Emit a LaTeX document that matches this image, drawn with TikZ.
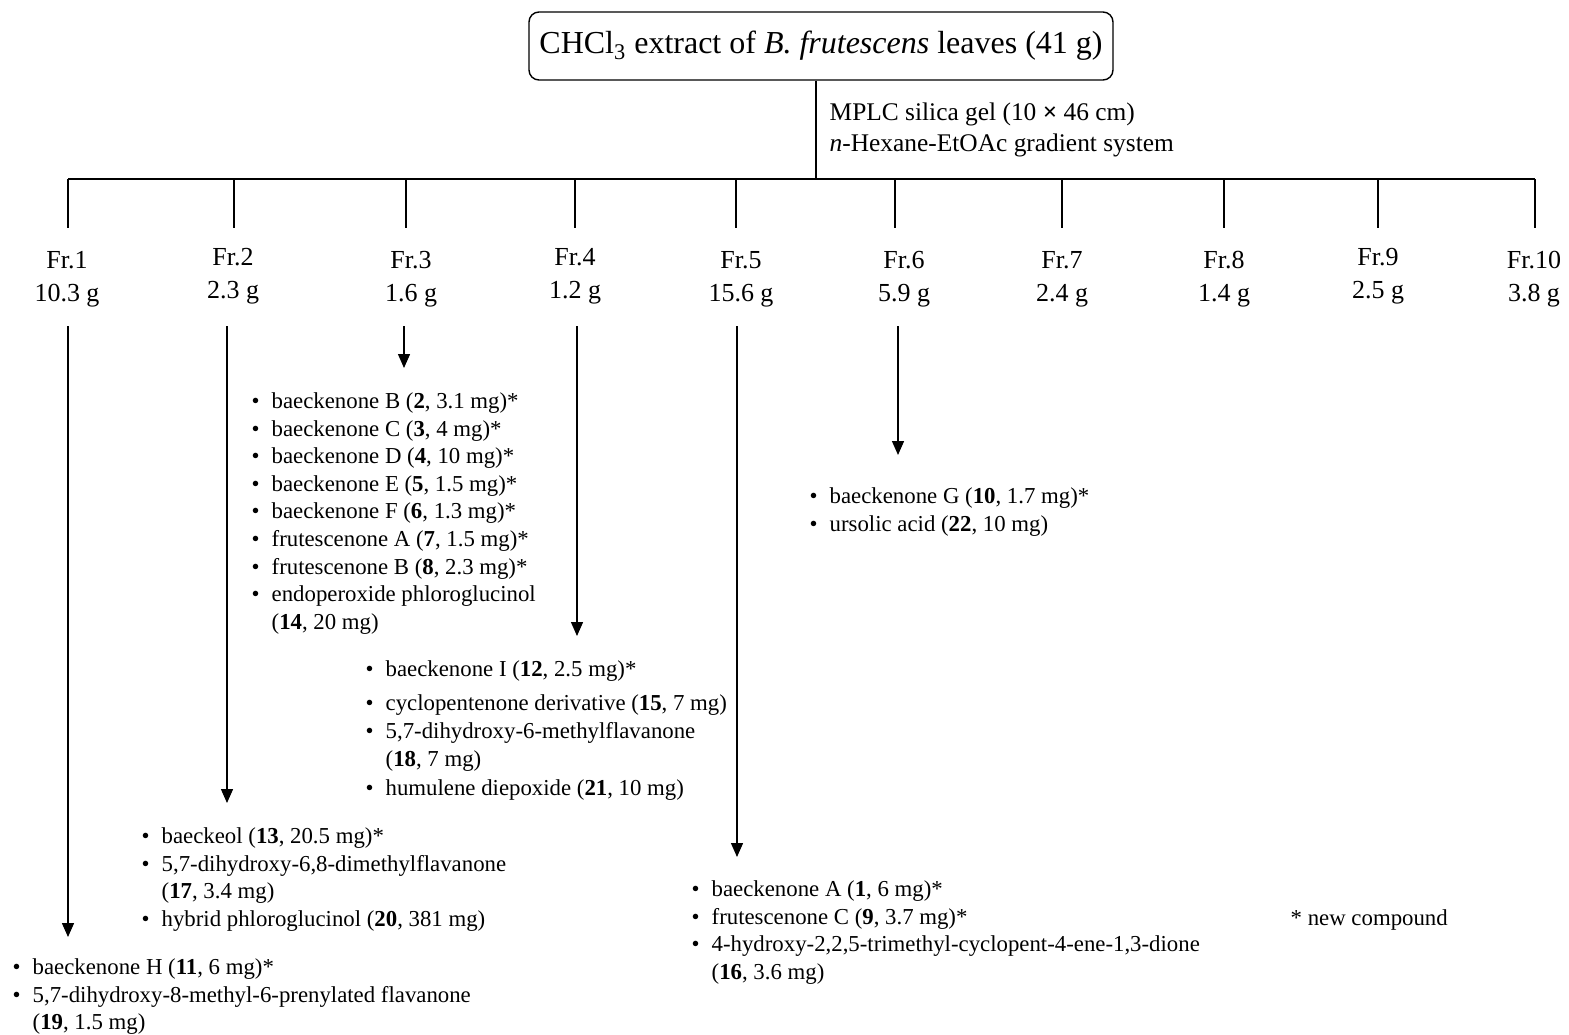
\documentclass[tikz,border=0pt]{standalone}
\usepackage{fontspec}
\setmainfont{Liberation Serif}
\usetikzlibrary{positioning,arrows.meta}
\tikzset{>={Triangle[length=7pt,width=6pt]}}
\newcommand{\cmp}{\makebox[10pt][l]{\textbullet}}
\newcommand{\cont}{\hspace*{10pt}}

\begin{document}
\begin{tikzpicture}[x=0.5pt,y=-0.5pt,line width=0.7pt,
  frac/.style={align=center,inner sep=0pt,font=\fontsize{13}{16.5}\selectfont},
  cmplist/.style={align=left,anchor=north west,inner sep=0pt,font=\fontsize{11.4}{13.8}\selectfont}]
\useasboundingbox (0,0) rectangle (1569,1034);

% crude extract and first column
\node[draw,rounded corners=5pt,minimum width=292pt,minimum height=34pt,inner sep=0pt,
  font=\fontsize{16}{19}\selectfont] (extract) at (821,46)
  {CHCl\textsubscript{3} extract of \textit{B. frutescens} leaves (41 g)};
\coordinate (bus) at (816,179);
\draw (extract.south -| bus) -- (bus);
\node[anchor=west,align=left,inner sep=0pt,font=\fontsize{12.7}{15.5}\selectfont] (mplc) at (829,130)
  {MPLC silica gel (10 {\bfseries ×} 46 cm)\\\textit{n}-Hexane-EtOAc gradient system};

% fractions
\coordinate (d1) at (68,228);
\coordinate (d10) at (1535,228);
\draw (d1 |- bus) -- (d10 |- bus);
\coordinate (d2) at (234,228);
\coordinate (d3) at (406,228);
\coordinate (d4) at (575,228);
\coordinate (d5) at (736,228);
\coordinate (d6) at (895,228);
\coordinate (d7) at (1062,228);
\coordinate (d8) at (1224,228);
\coordinate (d9) at (1378,228);
\draw (d1 |- bus) -- (d1);
\draw (d2 |- bus) -- (d2);
\draw (d3 |- bus) -- (d3);
\draw (d4 |- bus) -- (d4);
\draw (d5 |- bus) -- (d5);
\draw (d6 |- bus) -- (d6);
\draw (d7 |- bus) -- (d7);
\draw (d8 |- bus) -- (d8);
\draw (d9 |- bus) -- (d9);
\draw (d10 |- bus) -- (d10);

\node[frac] (fr1) at (67,279) {Fr.1\\10.3 g};
\node[frac] (fr2) at (233,276) {Fr.2\\2.3 g};
\node[frac] (fr3) at (411,279) {Fr.3\\1.6 g};
\node[frac] (fr4) at (575,276) {Fr.4\\1.2 g};
\node[frac] (fr5) at (741,279) {Fr.5\\15.6 g};
\node[frac] (fr6) at (904,279) {Fr.6\\5.9 g};
\node[frac] (fr7) at (1062,279) {Fr.7\\2.4 g};
\node[frac] (fr8) at (1224,279) {Fr.8\\1.4 g};
\node[frac] (fr9) at (1378,276) {Fr.9\\2.5 g};
\node[frac] (fr10) at (1534,279) {Fr.10\\3.8 g};

% isolated compounds
\node[cmplist] (l3) at (251,392) {\cmp baeckenone B (\textbf{2}, 3.1 mg)*\\
  \cmp baeckenone C (\textbf{3}, 4 mg)*\\
  \cmp baeckenone D (\textbf{4}, 10 mg)*\\
  \cmp baeckenone E (\textbf{5}, 1.5 mg)*\\
  \cmp baeckenone F (\textbf{6}, 1.3 mg)*\\
  \cmp frutescenone A (\textbf{7}, 1.5 mg)*\\
  \cmp frutescenone B (\textbf{8}, 2.3 mg)*\\
  \cmp endoperoxide phloroglucinol\\
  \cont(\textbf{14}, 20 mg)};
\node[cmplist] (l6) at (809,487) {\cmp baeckenone G (\textbf{10}, 1.7 mg)*\\
  \cmp ursolic acid (\textbf{22}, 10 mg)};
\node[cmplist] (l4) at (365,660) {\cmp baeckenone I (\textbf{12}, 2.5 mg)*\\[3pt]
  \cmp cyclopentenone derivative (\textbf{15}, 7 mg)\\[0.4pt]
  \cmp 5,7-dihydroxy-6-methylflavanone\\[0.4pt]
  \cont(\textbf{18}, 7 mg)\\[0.4pt]
  \cmp humulene diepoxide (\textbf{21}, 10 mg)};
\node[cmplist] (l2) at (141,827) {\cmp baeckeol (\textbf{13}, 20.5 mg)*\\
  \cmp 5,7-dihydroxy-6,8-dimethylflavanone\\
  \cont(\textbf{17}, 3.4 mg)\\
  \cmp hybrid phloroglucinol (\textbf{20}, 381 mg)};
\node[cmplist] (l5) at (691,880) {\cmp baeckenone A (\textbf{1}, 6 mg)*\\
  \cmp frutescenone C (\textbf{9}, 3.7 mg)*\\
  \cmp 4-hydroxy-2,2,5-trimethyl-cyclopent-4-ene-1,3-dione\\
  \cont(\textbf{16}, 3.6 mg)};
\node[cmplist] (l1) at (12,958) {\cmp baeckenone H (\textbf{11}, 6 mg)*\\
  \cmp 5,7-dihydroxy-8-methyl-6-prenylated flavanone\\
  \cont(\textbf{19}, 1.5 mg)};
\node[anchor=west,inner sep=0pt,font=\fontsize{11.4}{13.8}\selectfont] (note) at (1290,920) {* new compound};

% arrows
\coordinate (a1) at (68,326);
\coordinate (a2) at (227,326);
\coordinate (a3) at (404,326);
\coordinate (a4) at (577,326);
\coordinate (a5) at (737,326);
\coordinate (a6) at (898,326);
\coordinate (t1) at (68,937);
\coordinate (t2) at (227,803);
\coordinate (t3) at (404,368);
\coordinate (t4) at (577,636);
\coordinate (t5) at (737,857);
\coordinate (t6) at (898,455);
\draw[->] (a1) -- (t1);
\draw[->] (a2) -- (t2);
\draw[->] (a3) -- (t3);
\draw[->] (a4) -- (t4);
\draw[->] (a5) -- (t5);
\draw[->] (a6) -- (t6);
\end{tikzpicture}
\end{document}
